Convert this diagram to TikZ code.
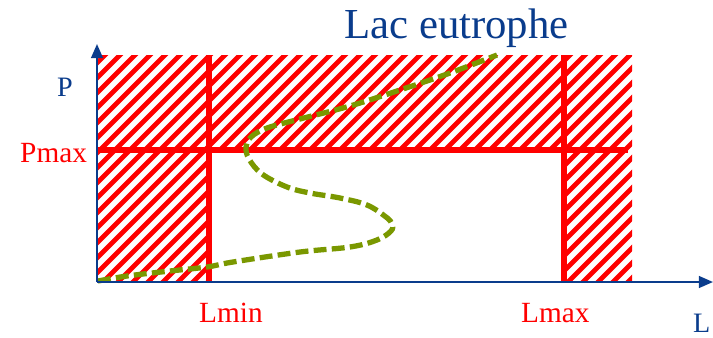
\documentclass[tikz,border=0pt]{standalone}
\usepackage{fontspec}
\setmainfont{Liberation Serif}
\usetikzlibrary{arrows.meta}
\definecolor{axisblue}{RGB}{10,60,140}
\definecolor{hatchred}{RGB}{255,0,0}
\definecolor{curvegreen}{RGB}{122,152,0}
\tikzset{
  axisline/.style={draw=axisblue, line width=1.7pt, -{Triangle[length=12pt,width=10pt]}},
  limitline/.style={draw=hatchred, line width=5pt},
  hatchline/.style={draw=hatchred, line width=4.2pt},
  curveline/.style={draw=curvegreen, line width=4.5pt, dash pattern=on 11pt off 4.5pt},
  titletext/.style={text=axisblue, font=\fontsize{36.5}{42}\selectfont, inner sep=0pt, anchor=base west},
  bluelabel/.style={text=axisblue, font=\fontsize{24}{28}\selectfont, inner sep=0pt, anchor=base west},
  redlabel/.style={text=hatchred, font=\fontsize{25}{29}\selectfont, inner sep=0pt, anchor=base west}
}
\begin{document}
\begin{tikzpicture}[x=0.03cm, y=-0.03cm]
\useasboundingbox (0,0) rectangle (713,337);
% key points
\coordinate (O) at (97,282);
\coordinate (Ytip) at (97,44);
\coordinate (Xtip) at (713,282);
\coordinate (PmaxL) at (97,150);
\coordinate (PmaxR) at (628,150);
\coordinate (LminT) at (209,55);
\coordinate (LminB) at (209,282);
\coordinate (LmaxT) at (564,55);
\coordinate (LmaxB) at (564,282);
% hatched forbidden zones
\begin{scope}
  \clip (97,55) rectangle (209,282) (209,55) rectangle (564,150) (564,55) rectangle (632,282);
  \foreach \c in {130,145,...,940} {
    \draw[hatchline] (\c-300,300) -- (\c-40,40);
  }
\end{scope}
% limit lines
\draw[limitline] (PmaxL) -- (PmaxR);
\draw[limitline] (LminT) -- (LminB);
\draw[limitline] (LmaxT) -- (LmaxB);
% trajectory curve
\draw[curveline] plot[smooth, tension=0.6] coordinates {
  (98,281) (127,276) (170,271) (207,267) (233,262) (300,252) (350,247)
  (377,240) (391,231) (392,224) (386,217) (367,205) (340,198) (310,193)
  (287,187) (262,174) (249,159) (246,147) (251,137) (267,128) (300,119)
  (350,106) (400,90) (450,73) (497,55)};
% axes
\draw[axisline] (O) -- (Ytip);
\draw[axisline] (O) -- (Xtip);
% labels
\node[titletext] (title) at (344,38) {Lac eutrophe};
\node[bluelabel] (ylab) at (57,96) {P};
\node[redlabel] (pmax) at (20,162) {Pmax};
\node[redlabel] (lmin) at (199,322) {Lmin};
\node[redlabel] (lmax) at (521,322) {Lmax};
\node[bluelabel] (xlab) at (693,332) {L};
\end{tikzpicture}
\end{document}
